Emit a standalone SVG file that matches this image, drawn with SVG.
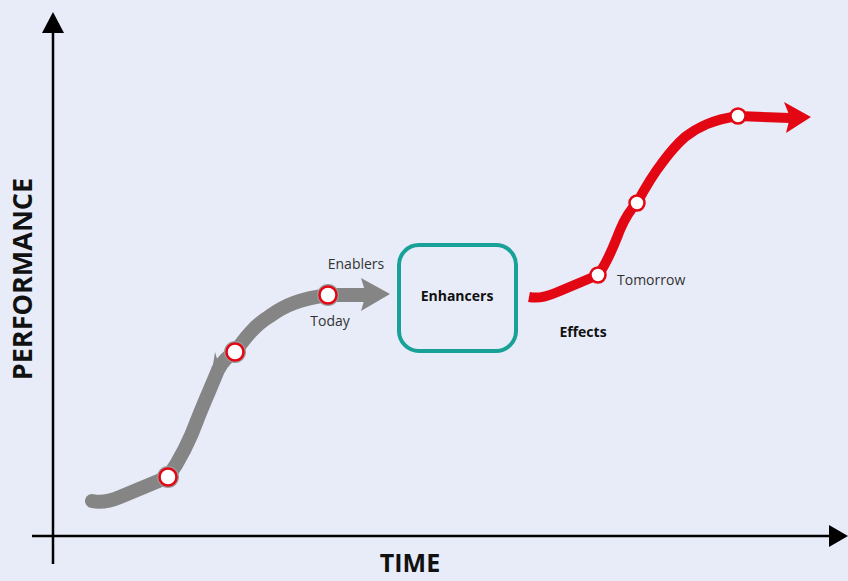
<svg xmlns="http://www.w3.org/2000/svg" width="848" height="581" viewBox="0 0 848 581">
<style>
.axis{stroke:#000;stroke-width:2.5;fill:none}
.grey{stroke:#858585;stroke-width:14;fill:none;stroke-linecap:round;stroke-linejoin:round}
.red{stroke:#E30613;stroke-width:10;fill:none;stroke-linecap:butt;stroke-linejoin:round}
.dotg{fill:#fff;stroke:#E30613;stroke-width:2.5}
.dotr{fill:#fff;stroke:#E30613;stroke-width:2.5}
.lbl{font-family:"Open Sans","Liberation Sans",sans-serif;font-size:14px;fill:#333}
.bold{font-family:"Open Sans","Liberation Sans",sans-serif;font-weight:bold;fill:#111}
</style>
<rect width="848" height="581" fill="#E8ECF8"/>
<g id="axes">
<line class="axis" x1="53" y1="28" x2="53" y2="564"/>
<polygon points="53,12 42,33 64,33" fill="#000"/>
<line class="axis" x1="32" y1="536" x2="832" y2="536"/>
<polygon points="848,536 829,525 829,547" fill="#000"/>
<text class="bold" font-size="27" transform="translate(32,279) rotate(-90)" text-anchor="middle" x="0" y="0">PERFORMANCE</text>
<text class="bold" font-size="25" x="410" y="572" text-anchor="middle">TIME</text>
</g>
<g id="connectors">
<g id="today-curve">
<path class="grey" d="M92,501 C100,503 108,502 120,497 L168,477 C180,460 190,440 198,418 C205,400 212,385 218,370 C222,362 228,356 235,352 C245,338 255,325 270,316 C285,305 300,299 328,295 L364,295"/>
<polygon points="390,294 361,278 366,294 361,311" fill="#858585"/>
<polygon points="215,352 221,372 211,378" fill="#858585"/>
</g>
<g id="tomorrow-curve">
<path class="red" d="M529,297 C540,299 548,296 560,291 L598,275 C608,262 614,245 620,230 C625,218 630,210 637,203 C645,188 652,176 662,163 C670,152 676,145 685,137 C698,127 712,120 738,116 L790,118"/>
<polygon points="811,117 784,102 790,117 786,133" fill="#E30613"/>
</g>
</g>
<g id="points">
<circle cx="168" cy="477" r="11" fill="#999"/><circle class="dotg" cx="168" cy="477" r="8.5"/>
<circle cx="235" cy="352" r="11" fill="#999"/><circle class="dotg" cx="235" cy="352" r="8.5"/>
<circle cx="328" cy="295" r="11" fill="#999"/><circle class="dotg" cx="328" cy="295" r="8.5"/>
<circle class="dotr" cx="598" cy="275" r="7.5"/>
<circle class="dotr" cx="637" cy="203" r="7.5"/>
<circle class="dotr" cx="738" cy="116" r="7.5"/>
</g>
<g id="enhancers">
<rect x="399" y="245" width="117" height="106" rx="20" fill="none" stroke="#17A197" stroke-width="4"/>
<text class="bold" font-size="14" x="457" y="301" text-anchor="middle">Enhancers</text>
</g>
<g id="labels">
<text class="lbl" x="356" y="269" text-anchor="middle">Enablers</text>
<text class="lbl" x="330" y="326" text-anchor="middle">Today</text>
<text class="lbl" x="617" y="285">Tomorrow</text>
<text class="bold" font-size="14" x="583" y="337" text-anchor="middle">Effects</text>
</g>
</svg>
